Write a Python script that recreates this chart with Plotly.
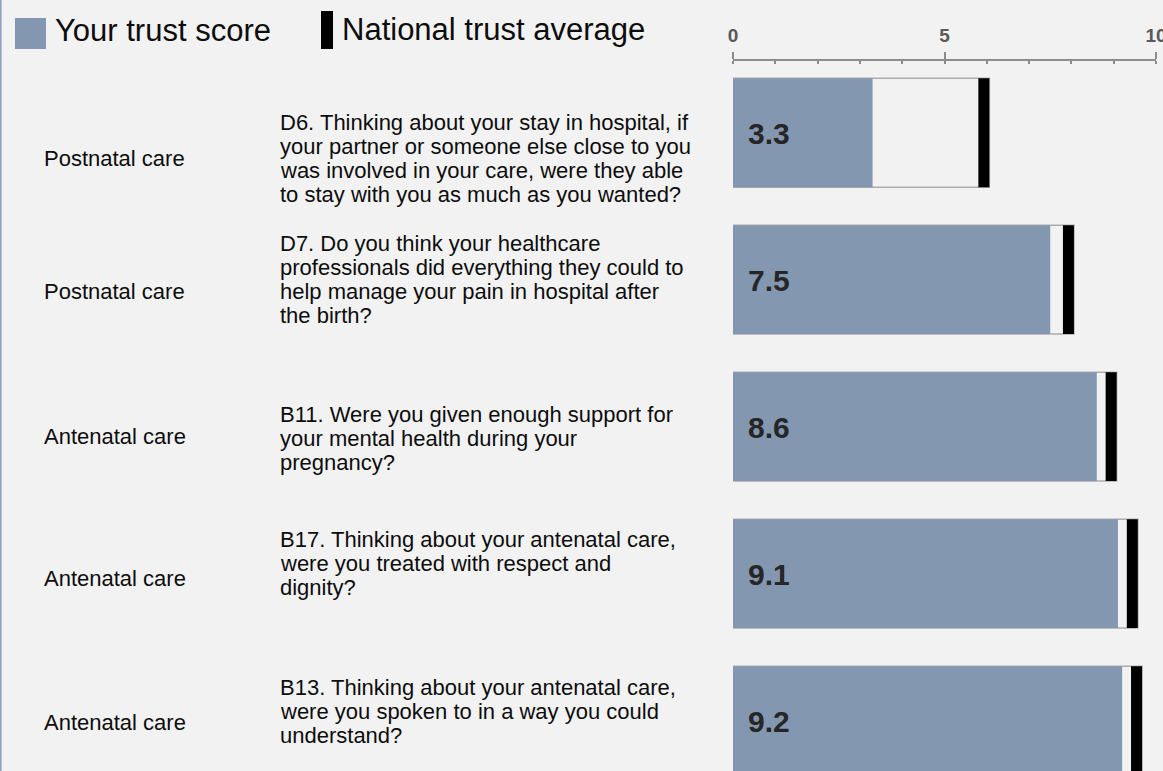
import plotly.graph_objects as go

# ---------------- data ----------------
question_ids = ["D6", "D7", "B11", "B17", "B13"]
sections = ["Postnatal care", "Postnatal care", "Antenatal care", "Antenatal care", "Antenatal care"]
question_lines = [
    ["D6. Thinking about your stay in hospital, if",
     "your partner or someone else close to you",
     "was involved in your care, were they able",
     "to stay with you as much as you wanted?"],
    ["D7. Do you think your healthcare",
     "professionals did everything they could to",
     "help manage your pain in hospital after",
     "the birth?"],
    ["B11. Were you given enough support for",
     "your mental health during your",
     "pregnancy?"],
    ["B17. Thinking about your antenatal care,",
     "were you treated with respect and",
     "dignity?"],
    ["B13. Thinking about your antenatal care,",
     "were you spoken to in a way you could",
     "understand?"],
]
trust_scores = [3.3, 7.5, 8.6, 9.1, 9.2]
national_avg = [5.93, 7.93, 8.94, 9.44, 9.54]
x_tick_vals = [0, 5, 10]
legend_labels = ["Your trust score", "National trust average"]

# ---------------- styling / layout ----------------
W, H = 1163, 771
BG = "#f2f2f2"
BAR_COLOR = "#8497b0"
MARK_HALF = 0.13
FONT = "Liberation Sans, Arial, sans-serif"

# pixel offsets of the text blocks relative to each bar centre (layout only)
first_line_shift = [10.7, 36.7, 11.8, 33.8, 32.8]
section_shift = [-25.3, -11.3, -10.2, -5.2, -2.2]
LINE_STEP = 24


def px_x(p):
    return p / W


def px_y(p):
    return 1 - p / H


fig = go.Figure()

# national average box (outline)
fig.add_trace(go.Bar(
    y=question_ids, x=[n + MARK_HALF for n in national_avg], orientation="h",
    marker=dict(color=BG, line=dict(color="#acacac", width=1.5)),
    width=0.74, hoverinfo="skip", showlegend=False,
))
# trust score
fig.add_trace(go.Bar(
    y=question_ids, x=trust_scores, orientation="h",
    marker=dict(color=BAR_COLOR, line=dict(width=0)),
    width=0.74, name=legend_labels[0], showlegend=False,
))
# national average marker
fig.add_trace(go.Bar(
    y=question_ids, x=[2 * MARK_HALF] * len(national_avg),
    base=[n - MARK_HALF for n in national_avg], orientation="h",
    marker=dict(color="#000000", line=dict(width=0)),
    width=0.74, name=legend_labels[1], showlegend=False,
))

annotations = []
for i, qid in enumerate(question_ids):
    # value label
    annotations.append(dict(
        x=0, y=qid, xref="x", yref="y", xanchor="left", yanchor="middle",
        xshift=13, yshift=-1, showarrow=False,
        text=f"{trust_scores[i]:.1f}",
        font=dict(family=FONT, size=30, color="#262626", weight="bold"),
    ))
    # section label
    annotations.append(dict(
        x=px_x(42), y=qid, xref="paper", yref="y", xanchor="left", yanchor="middle",
        yshift=section_shift[i], showarrow=False, text=sections[i],
        font=dict(family=FONT, size=22, color="#0d0d0d"),
    ))
    # question lines
    for k, line in enumerate(question_lines[i]):
        annotations.append(dict(
            x=px_x(278), y=qid, xref="paper", yref="y", xanchor="left", yanchor="middle",
            yshift=first_line_shift[i] - k * LINE_STEP, showarrow=False, text=line,
            font=dict(family=FONT, size=22, color="#0d0d0d"),
        ))

# legend text
annotations.append(dict(
    x=px_x(53), y=px_y(31), xref="paper", yref="paper", xanchor="left", yanchor="middle",
    showarrow=False, text=legend_labels[0],
    font=dict(family=FONT, size=31, color="#0d0d0d"),
))
annotations.append(dict(
    x=px_x(340), y=px_y(30), xref="paper", yref="paper", xanchor="left", yanchor="middle",
    showarrow=False, text=legend_labels[1],
    font=dict(family=FONT, size=31, color="#0d0d0d"),
))

shapes = [
    dict(type="rect", xref="paper", yref="paper",
         x0=px_x(15), x1=px_x(46), y0=px_y(49), y1=px_y(18),
         fillcolor=BAR_COLOR, line=dict(width=0)),
    dict(type="rect", xref="paper", yref="paper",
         x0=px_x(321), x1=px_x(333), y0=px_y(49), y1=px_y(11),
         fillcolor="#000000", line=dict(width=0)),
    dict(type="line", xref="paper", yref="paper",
         x0=0.0005, x1=0.0005, y0=0, y1=1,
         line=dict(color="#8ea2c0", width=2)),
]

fig.update_layout(
    width=W, height=H,
    margin=dict(l=0, r=0, t=0, b=0, pad=0, autoexpand=False),
    paper_bgcolor=BG, plot_bgcolor=BG,
    barmode="overlay",
    showlegend=False,
    xaxis=dict(
        range=[0, 10], domain=[px_x(733), px_x(1156)],
        side="top", anchor="free", position=px_y(60),
        showline=True, linecolor="#8c8c8c", linewidth=1.5,
        ticks="outside", ticklen=7, tickwidth=1.5, tickcolor="#8c8c8c",
        tickvals=x_tick_vals, ticklabelstandoff=3, ticklabeloverflow="allow",
        automargin=False,
        tickfont=dict(family=FONT, size=19, color="#595959", weight="bold"),
        minor=dict(dtick=1, ticks="inside", ticklen=3, tickwidth=1.5, tickcolor="#8c8c8c"),
        showgrid=False, zeroline=False, fixedrange=True,
    ),
    yaxis=dict(
        type="category", categoryorder="array", categoryarray=question_ids,
        range=[4.342, -0.903], domain=[0, 1],
        visible=False, fixedrange=True, automargin=False,
    ),
    annotations=annotations,
    shapes=shapes,
)

fig.write_html("out.html")
